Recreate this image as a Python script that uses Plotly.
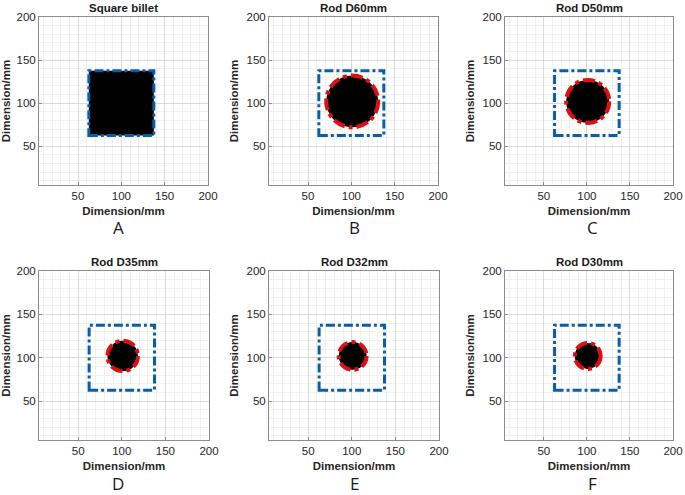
import plotly.graph_objects as go

# ---- data ----
titles = ["Square billet", "Rod D60mm", "Rod D50mm", "Rod D35mm", "Rod D32mm", "Rod D30mm"]
letters = ["A", "B", "C", "D", "E", "F"]
billet_side = 75.0          # mm, square billet
billet_center = (100.0, 100.0)
rod_diameters = [None, 60, 50, 35, 32, 30]   # mm (None -> square billet filled)
rod_center = (101.0, 102.0)
axis_range = [5, 200]
tick_vals = [50, 100, 150, 200]

W, H = 685, 495
# axes pixel boxes (left, right, top, bottom)
boxes = [
    (39, 208, 17, 185), (269, 438, 17, 185), (505, 673, 17, 185),
    (39, 209, 271, 440), (269, 439, 271, 440), (505, 673, 271, 440),
]
letter_x = [118, 354, 592, 118, 354, 592]
letter_dy = [42, 42, 42, 43, 43, 43]

BLUE = "#0a5ea8"
RED = "#e01010"
FONT = "Liberation Sans, Arial, sans-serif"

fig = go.Figure()
layout = dict(
    width=W, height=H, margin=dict(l=0, r=0, t=0, b=0, autoexpand=False),
    paper_bgcolor="white", plot_bgcolor="white", showlegend=False,
    font=dict(family=FONT, color="#262626", size=11),
)
shapes = []
annotations = []

for i in range(6):
    l, r, t, b = boxes[i]
    n = "" if i == 0 else str(i + 1)
    xa, ya = "xaxis" + n, "yaxis" + n
    xr, yr = "x" + n, "y" + n
    common = dict(
        range=axis_range, tickvals=tick_vals, showline=True, mirror=True,
        linecolor="#8c8c8c", linewidth=1, ticks="inside", ticklen=3, tickcolor="#8c8c8c",
        showgrid=True, gridcolor="#dadada", gridwidth=1, zeroline=False,
        minor=dict(dtick=10, tick0=0, showgrid=True, gridcolor="#f0f0f0", gridwidth=1, ticks=""),
        tickfont=dict(size=11.5, family=FONT, color="#262626"),
        fixedrange=True, automargin=False,
    )
    ttl = dict(size=11.5, family=FONT, color="#262626")
    layout[xa] = dict(common, domain=[l / W, r / W], anchor=yr,
                      title=dict(text="<b>Dimension/mm</b>", font=ttl, standoff=6))
    layout[ya] = dict(common, domain=[1 - b / H, 1 - t / H], anchor=xr,
                      title=dict(text="<b>Dimension/mm</b>", font=ttl, standoff=5))

    # invisible trace so the axes are drawn
    fig.add_trace(go.Scatter(x=[None], y=[None], xaxis=xr, yaxis=yr, hoverinfo="skip"))

    # billet square
    cx, cy = billet_center
    h = billet_side / 2
    d = rod_diameters[i]
    shapes.append(dict(
        type="rect", xref=xr, yref=yr, x0=cx - h, x1=cx + h, y0=cy - h, y1=cy + h,
        fillcolor="black" if d is None else "rgba(0,0,0,0)",
        line=dict(color=BLUE, width=3, dash="dashdot"), layer="above",
    ))
    if d is not None:
        rx, ry = rod_center
        rad = d / 2
        shapes.append(dict(
            type="circle", xref=xr, yref=yr, x0=rx - rad, x1=rx + rad, y0=ry - rad, y1=ry + rad,
            fillcolor="black", line=dict(color=RED, width=4, dash="dashdot"), layer="above",
        ))

    # title
    annotations.append(dict(
        text="<b>" + titles[i] + "</b>", xref="paper", yref="paper",
        x=(l + r) / 2 / W, y=1 - (t - 9) / H, showarrow=False,
        font=dict(size=11.5, family=FONT, color="#1a1a1a"), xanchor="center", yanchor="middle",
    ))
    # panel letter
    annotations.append(dict(
        text=letters[i], xref="paper", yref="paper",
        x=letter_x[i] / W, y=1 - (b + letter_dy[i]) / H, showarrow=False,
        font=dict(size=17, family="Open Sans, Liberation Sans, sans-serif", color="#1a1a1a"),
        xanchor="center", yanchor="middle",
    ))

layout["shapes"] = shapes
layout["annotations"] = annotations
fig.update_layout(**layout)
fig.write_html("out.html", config={"displayModeBar": False},
               post_script="document.body.style.margin='0px';")
